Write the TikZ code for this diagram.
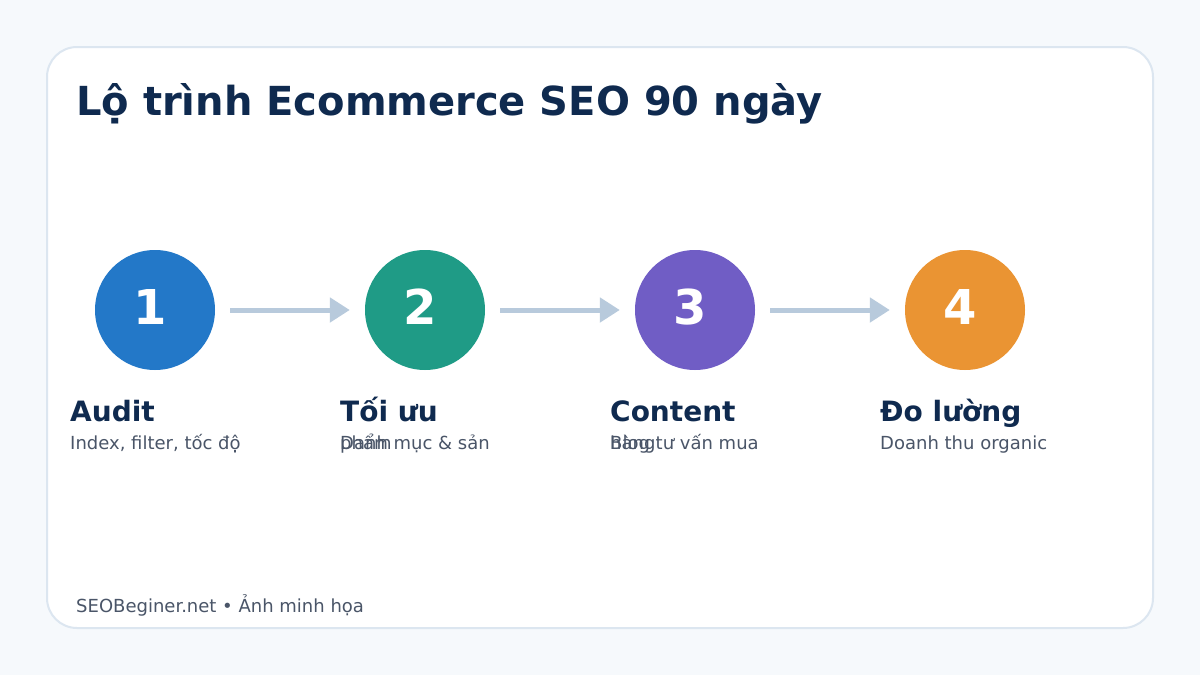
\documentclass[tikz,border=0pt]{standalone}
\usepackage{fontspec}
\setmainfont{DejaVu Sans}
\usetikzlibrary{arrows.meta}
\definecolor{bgc}{HTML}{F6F9FC}
\definecolor{cardborder}{HTML}{DCE6F0}
\definecolor{navy}{HTML}{0F2A4F}
\definecolor{subgray}{HTML}{4A5568}
\definecolor{arrowc}{HTML}{B8CADC}
\definecolor{cblue}{HTML}{2378C8}
\definecolor{cteal}{HTML}{1F9B86}
\definecolor{cpurple}{HTML}{705DC5}
\definecolor{corange}{HTML}{EA9433}
\tikzset{
  stepcircle/.style={circle, minimum size=120pt, inner sep=0pt, draw=none},
  numtext/.style={inner sep=0pt, text=white, font=\fontsize{48}{56}\selectfont\bfseries},
  headtext/.style={anchor=base west, inner sep=0pt, text=navy, font=\fontsize{28}{32}\selectfont\bfseries},
  subtext/.style={anchor=base west, inner sep=0pt, text=subgray, font=\fontsize{18}{22}\selectfont},
  flowarrow/.style={draw=arrowc, line width=5pt, -{Triangle[length=20pt,width=24pt]}, shorten <=15pt, shorten >=15pt},
}
\begin{document}
\begin{tikzpicture}[x=1pt,y=-1pt]
\useasboundingbox (0,0) rectangle (1200,675);
\fill[bgc] (0,0) rectangle (1200,675);
\draw[cardborder, line width=2pt, fill=white, rounded corners=30pt] (47,47) rectangle (1153,628);
\node[anchor=base west, inner sep=0pt, text=navy, font=\fontsize{40}{48}\selectfont\bfseries] (title) at (76,115) {Lộ trình Ecommerce SEO 90 ngày};

\node[stepcircle, fill=cblue] (c1) at (155,310) {};
\node[stepcircle, fill=cteal] (c2) at (425,310) {};
\node[stepcircle, fill=cpurple] (c3) at (695,310) {};
\node[stepcircle, fill=corange] (c4) at (965,310) {};

\node[numtext] (n1) at (150,307) {1};
\node[numtext] (n2) at (420,307) {2};
\node[numtext] (n3) at (690,307) {3};
\node[numtext] (n4) at (960,307) {4};

\draw[flowarrow] (c1) -- (c2);
\draw[flowarrow] (c2) -- (c3);
\draw[flowarrow] (c3) -- (c4);

\node[headtext] (h1) at (70,421) {Audit};
\node[headtext] (h2) at (340,421) {Tối ưu};
\node[headtext] (h3) at (610,421) {Content};
\node[headtext] (h4) at (880,421) {Đo lường};

\node[subtext] (s1) at (70,449) {Index, filter, tốc độ};
\node[subtext] (s2a) at (340,449) {Danh mục \& sản};
\node[subtext] (s2b) at (340,449) {phẩm};
\node[subtext] (s3a) at (610,449) {Blog tư vấn mua};
\node[subtext] (s3b) at (610,449) {hàng};
\node[subtext] (s4) at (880,449) {Doanh thu organic};

\node[anchor=base west, inner sep=0pt, text=subgray, font=\fontsize{18}{22}\selectfont] (foot) at (76,612) {SEOBeginer.net • Ảnh minh họa};
\end{tikzpicture}
\end{document}
